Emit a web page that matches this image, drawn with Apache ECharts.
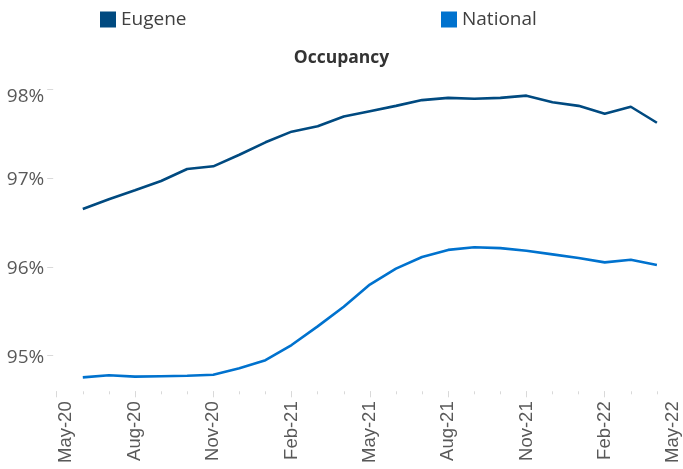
<!DOCTYPE html>
<html>
<head>
<meta charset="utf-8">
<script src="https://cdn.jsdelivr.net/npm/echarts@6/dist/echarts.min.js"></script>
<style>
html,body{margin:0;padding:0;background:#fff;}
#chart{width:683px;height:469px;}
</style>
</head>
<body>
<div id="chart"></div>
<script>
var months = ['May-20','Jun-20','Jul-20','Aug-20','Sep-20','Oct-20','Nov-20','Dec-20','Jan-21','Feb-21','Mar-21','Apr-21','May-21','Jun-21','Jul-21','Aug-21','Sep-21','Oct-21','Nov-21','Dec-21','Jan-22','Feb-22','Mar-22','Apr-22','May-22'];
var eugene = [null,96.65,96.76,96.86,96.965,97.10,97.13,97.26,97.40,97.52,97.58,97.69,97.75,97.81,97.875,97.90,97.89,97.90,97.925,97.85,97.81,97.72,97.80,97.62,null];
var national = [null,94.757,94.78,94.765,94.77,94.775,94.786,94.86,94.95,95.12,95.33,95.55,95.80,95.98,96.11,96.19,96.22,96.21,96.18,96.14,96.10,96.05,96.08,96.02,null];
var yTicks = [95,96,97,98];
var seriesNames = ['Eugene','National'];
var colors = ['#004A80','#0072CE'];

var chart = echarts.init(document.getElementById('chart'), null, {renderer:'canvas'});
var legFont = {fontFamily:'Open Sans', fontSize:19, color:'#404040'};
var xFont = {fontFamily:'Liberation Sans', fontSize:18.5, color:'#595959'};
var yFont = {fontFamily:'Open Sans', fontSize:19, color:'#595959'};
function merge(a,b){var o={};for(var k in a)o[k]=a[k];for(var k2 in b)o[k2]=b[k2];return o;}
var option = {
  animation:false,
  title:{text:'Occupancy', left:'center', top:44,
    textStyle:{fontFamily:'Open Sans', fontWeight:'bold', fontSize:17.5, color:'#333333'}},
  legend:[
    {data:[seriesNames[0]], left:95, top:5, itemWidth:16, itemHeight:16, icon:'rect', textStyle:legFont},
    {data:[seriesNames[1]], left:436, top:5, itemWidth:16, itemHeight:16, icon:'rect', textStyle:legFont}
  ],
  grid:{left:56.7, right:-4.9, top:53.4, bottom:77.7, containLabel:false},
  xAxis:[{
    type:'category', data:months, boundaryGap:false,
    axisLine:{show:false},
    axisTick:{show:true, interval:0, length:3, lineStyle:{color:'#d9d9d9'}},
    axisLabel:merge(xFont, {interval:2, rotate:90, margin:10,
      formatter:function(v,i){ if(v===months[0]) return '{f|'+v+'}'; if(v===months[months.length-1]) return '{l|'+v+'}'; return v; },
      rich:{
        f:merge(xFont, {padding:[19,0,0,0]}),
        l:merge(xFont, {padding:[0,0,20,0]})
      }})
  },{
    type:'category', data:months, boundaryGap:false, position:'bottom',
    axisLine:{show:false},
    axisTick:{show:true, interval:2, length:6, lineStyle:{color:'#d9d9d9'}},
    axisLabel:{show:false}
  }],
  yAxis:{
    type:'value', min:94.6, max:98.4, offset:3.5,
    splitLine:{show:false},
    axisLine:{show:false},
    axisTick:{show:true, length:6, customValues:yTicks, lineStyle:{color:'#d9d9d9'}},
    axisLabel:merge(yFont, {customValues:yTicks, margin:9,
      formatter:function(v){ var r=Math.round(v); return (r===98?'{t|':'{n|')+r+'%}'; },
      rich:{
        n:merge(yFont, {padding:[3,0,0,0]}),
        t:merge(yFont, {padding:[16,0,0,0]})
      }})
  },
  series:[
    {name:seriesNames[0], type:'line', data:eugene, xAxisIndex:0, symbol:'none',
      itemStyle:{color:colors[0]}, lineStyle:{color:colors[0], width:2.6}},
    {name:seriesNames[1], type:'line', data:national, xAxisIndex:0, symbol:'none',
      itemStyle:{color:colors[1]}, lineStyle:{color:colors[1], width:2.6}}
  ]
};
chart.setOption(option);
</script>
</body>
</html>
